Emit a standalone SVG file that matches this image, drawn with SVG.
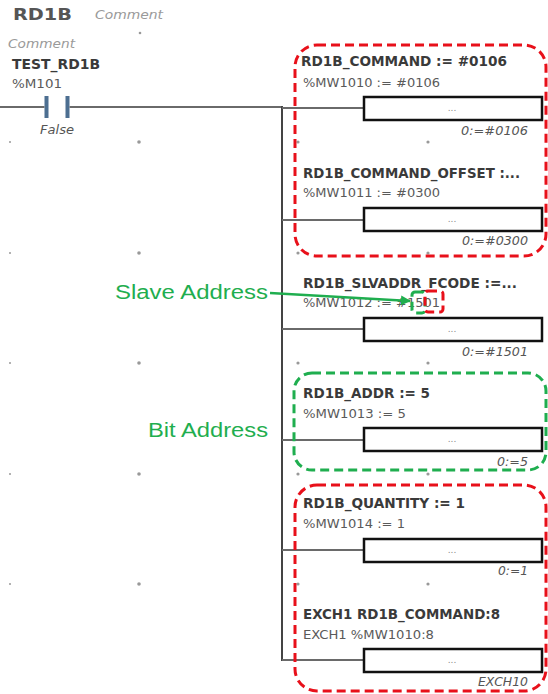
<svg xmlns="http://www.w3.org/2000/svg" width="548" height="694" viewBox="0 0 548 694">
<style>
.h{font-family:"DejaVu Sans Condensed","DejaVu Sans",sans-serif;font-weight:bold;font-size:14.5px;fill:#3a3a3a;}
.s{font-family:"DejaVu Sans Condensed","DejaVu Sans",sans-serif;font-size:12.5px;fill:#5a5a5a;}
.i{font-family:"DejaVu Sans Condensed","DejaVu Sans",sans-serif;font-style:italic;font-size:12.5px;fill:#555;}
.c{font-family:"DejaVu Sans Condensed","DejaVu Sans",sans-serif;font-style:italic;font-size:13px;fill:#9a9a9a;}
.d{font-family:"DejaVu Sans",sans-serif;font-size:9px;fill:#888;}
.g{font-family:"Liberation Sans",Arial,sans-serif;font-size:20px;fill:#1fae4f;}
.box{fill:#fff;stroke:#111;stroke-width:2.5;}
.wire{stroke:#6a6a6a;stroke-width:2;fill:none;}
.rail{stroke:#444;stroke-width:2;fill:none;}
.dot{fill:#999;}
.red{fill:none;stroke:#e8101a;stroke-width:3;stroke-dasharray:9 5;}
.grn{fill:none;stroke:#1fae4f;stroke-width:3;stroke-dasharray:9 5;}
</style>
<defs>
<marker id="ag" viewBox="0 0 10 10" refX="9" refY="5" markerWidth="4" markerHeight="4" orient="auto">
<path d="M0,0 L10,5 L0,10 z" fill="#1fae4f"/>
</marker>
</defs>
<rect width="548" height="694" fill="#fff"/>
<g id="grid">
<circle class="dot" cx="140" cy="33" r="1.3"/>
<circle class="dot" cx="10" cy="142" r="1"/><circle class="dot" cx="139" cy="142" r="1.8"/><circle class="dot" cx="298" cy="142" r="1.6"/><circle class="dot" cx="428" cy="142" r="1.6"/>
<circle class="dot" cx="10" cy="253" r="1"/><circle class="dot" cx="139" cy="253" r="1.8"/><circle class="dot" cx="298" cy="253" r="1.6"/><circle class="dot" cx="428" cy="253" r="1.6"/>
<circle class="dot" cx="10" cy="363" r="1"/><circle class="dot" cx="139" cy="363" r="1.8"/><circle class="dot" cx="298" cy="363" r="1.6"/><circle class="dot" cx="428" cy="363" r="1.6"/>
<circle class="dot" cx="10" cy="474" r="1"/><circle class="dot" cx="139" cy="474" r="1.8"/><circle class="dot" cx="298" cy="474" r="1.6"/><circle class="dot" cx="428" cy="474" r="1.6"/>
<circle class="dot" cx="10" cy="584" r="1"/><circle class="dot" cx="139" cy="584" r="1.8"/><circle class="dot" cx="298" cy="584" r="1.6"/><circle class="dot" cx="428" cy="584" r="1.6"/>
</g>
<g id="header">
<text x="13" y="20" font-family="DejaVu Sans Condensed,DejaVu Sans,sans-serif" font-weight="bold" font-size="16" fill="#555" textLength="59" lengthAdjust="spacingAndGlyphs">RD1B</text>
<text x="95" y="19" class="c" font-size="14" textLength="68" lengthAdjust="spacingAndGlyphs">Comment</text>
<text x="8" y="48" class="c" textLength="67" lengthAdjust="spacingAndGlyphs">Comment</text>
</g>
<g id="contact">
<text x="12" y="69" class="h" textLength="88" lengthAdjust="spacingAndGlyphs">TEST_RD1B</text>
<text x="12" y="88" class="s" textLength="50" lengthAdjust="spacingAndGlyphs">%M101</text>
<rect x="44.5" y="96" width="4" height="22" fill="#4d6f91"/>
<rect x="65.5" y="96" width="4" height="22" fill="#4d6f91"/>
<text x="40" y="134" class="i" textLength="34" lengthAdjust="spacingAndGlyphs">False</text>
</g>
<g id="connectors">
<line class="wire" x1="0" y1="107" x2="44.5" y2="107"/>
<line class="wire" x1="69.5" y1="107" x2="283" y2="107"/>
<line class="rail" x1="282" y1="106" x2="282" y2="661"/>
<line class="wire" x1="282" y1="108" x2="364" y2="108"/>
<line class="wire" x1="282" y1="220" x2="364" y2="220"/>
<line class="wire" x1="282" y1="329" x2="364" y2="329"/>
<line class="wire" x1="282" y1="440" x2="364" y2="440"/>
<line class="wire" x1="282" y1="550" x2="364" y2="550"/>
<line class="wire" x1="282" y1="660" x2="364" y2="660"/>
</g>
<g id="op1">
<text x="301" y="66" class="h" textLength="206" lengthAdjust="spacingAndGlyphs">RD1B_COMMAND := #0106</text>
<text x="303" y="87" class="s" textLength="137" lengthAdjust="spacingAndGlyphs">%MW1010 := #0106</text>
<rect class="box" x="364" y="97" width="178" height="23"/>
<text x="452" y="111" class="d" text-anchor="middle">...</text>
<text x="528" y="135" class="i" text-anchor="end" textLength="67" lengthAdjust="spacingAndGlyphs">0:=#0106</text>
</g>
<g id="op2">
<text x="303" y="178" class="h" textLength="217" lengthAdjust="spacingAndGlyphs">RD1B_COMMAND_OFFSET :...</text>
<text x="303" y="197" class="s" textLength="137" lengthAdjust="spacingAndGlyphs">%MW1011 := #0300</text>
<rect class="box" x="364" y="208" width="178" height="23"/>
<text x="452" y="222" class="d" text-anchor="middle">...</text>
<text x="528" y="245" class="i" text-anchor="end" textLength="66" lengthAdjust="spacingAndGlyphs">0:=#0300</text>
</g>
<g id="op3">
<text x="303" y="288" class="h" textLength="214" lengthAdjust="spacingAndGlyphs">RD1B_SLVADDR_FCODE :=...</text>
<text x="303" y="307" class="s" textLength="137" lengthAdjust="spacingAndGlyphs">%MW1012 := #1501</text>
<rect class="box" x="364" y="318" width="178" height="23"/>
<text x="452" y="332" class="d" text-anchor="middle">...</text>
<text x="528" y="356" class="i" text-anchor="end" textLength="66" lengthAdjust="spacingAndGlyphs">0:=#1501</text>
</g>
<g id="op4">
<text x="303" y="398" class="h" textLength="127" lengthAdjust="spacingAndGlyphs">RD1B_ADDR := 5</text>
<text x="303" y="418" class="s" textLength="103" lengthAdjust="spacingAndGlyphs">%MW1013 := 5</text>
<rect class="box" x="364" y="428" width="178" height="23"/>
<text x="452" y="442" class="d" text-anchor="middle">...</text>
<text x="528" y="466" class="i" text-anchor="end" textLength="31" lengthAdjust="spacingAndGlyphs">0:=5</text>
</g>
<g id="op5">
<text x="303" y="508" class="h" textLength="162" lengthAdjust="spacingAndGlyphs">RD1B_QUANTITY := 1</text>
<text x="303" y="528" class="s" textLength="102" lengthAdjust="spacingAndGlyphs">%MW1014 := 1</text>
<rect class="box" x="364" y="539" width="178" height="23"/>
<text x="452" y="553" class="d" text-anchor="middle">...</text>
<text x="528" y="575" class="i" text-anchor="end" textLength="30" lengthAdjust="spacingAndGlyphs">0:=1</text>
</g>
<g id="op6">
<text x="303" y="619" class="h" textLength="197" lengthAdjust="spacingAndGlyphs">EXCH1 RD1B_COMMAND:8</text>
<text x="303" y="639" class="s" textLength="131" lengthAdjust="spacingAndGlyphs">EXCH1 %MW1010:8</text>
<rect class="box" x="364" y="649" width="178" height="23"/>
<text x="452" y="663" class="d" text-anchor="middle">...</text>
<text x="528" y="686" class="i" text-anchor="end" textLength="50" lengthAdjust="spacingAndGlyphs">EXCH10</text>
</g>
<g id="highlights">
<rect class="red" x="295" y="45" width="251" height="211" rx="22"/>
<rect class="grn" x="294" y="373" width="252" height="97" rx="18"/>
<rect class="red" x="295" y="485" width="251" height="206" rx="22"/>
<rect class="grn" x="412" y="292" width="13" height="21" rx="3" stroke-width="2.5" stroke-dasharray="5 3"/>
<rect class="red" x="425" y="291" width="18" height="21" rx="3" stroke-width="2.5" stroke-dasharray="5 3"/>
</g>
<g id="annotations">
<text x="115" y="299" class="g" textLength="153" lengthAdjust="spacingAndGlyphs">Slave Address</text>
<line x1="270" y1="293" x2="410" y2="301" stroke="#1fae4f" stroke-width="2.5" marker-end="url(#ag)"/>
<text x="148" y="437" class="g" textLength="120" lengthAdjust="spacingAndGlyphs">Bit Address</text>
</g>
</svg>
